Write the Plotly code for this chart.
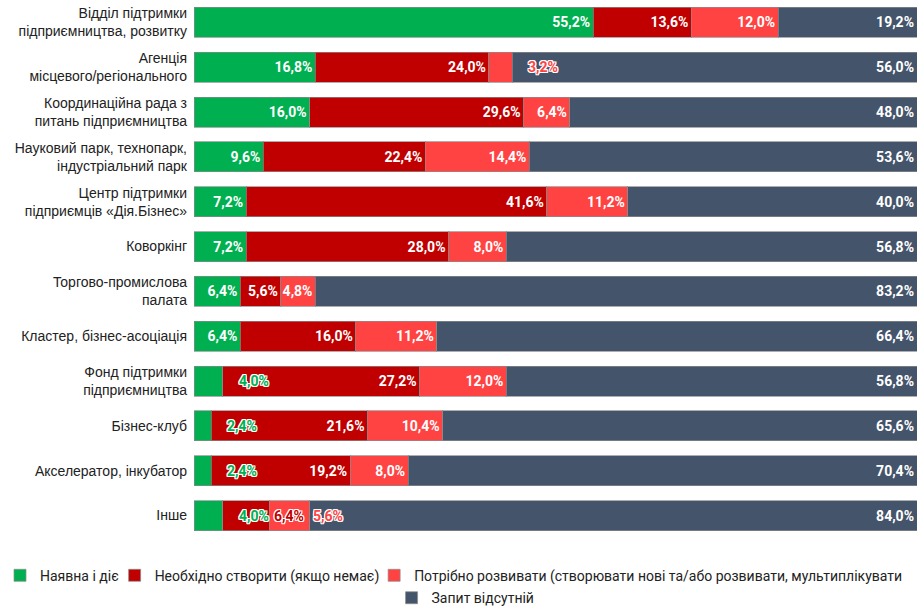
import plotly.graph_objects as go

categories = [
    "Відділ підтримки<br>підприємництва, розвитку",
    "Агенція<br>місцевого/регіонального",
    "Координаційна рада з<br>питань підприємництва",
    "Науковий парк, технопарк,<br>індустріальний парк",
    "Центр підтримки<br>підприємців «Дія.Бізнес»",
    "Коворкінг",
    "Торгово-промислова<br>палата",
    "Кластер, бізнес-асоціація",
    "Фонд підтримки<br>підприємництва",
    "Бізнес-клуб",
    "Акселератор, інкубатор",
    "Інше",
]

series_names = [
    "Наявна і діє",
    "Необхідно створити (якщо немає)",
    "Потрібно розвивати (створювати нові та/або розвивати, мультиплікувати",
    "Запит відсутній",
]

exists = [55.2, 16.8, 16.0, 9.6, 7.2, 7.2, 6.4, 6.4, 4.0, 2.4, 2.4, 4.0]
create = [13.6, 24.0, 29.6, 22.4, 41.6, 28.0, 5.6, 16.0, 27.2, 21.6, 19.2, 6.4]
develop = [12.0, 3.2, 6.4, 14.4, 11.2, 8.0, 4.8, 11.2, 12.0, 10.4, 8.0, 5.6]
no_request = [19.2, 56.0, 48.0, 53.6, 40.0, 56.8, 83.2, 66.4, 56.8, 65.6, 70.4, 84.0]

colors = ["#00B050", "#C00000", "#FF4343", "#44546A"]

# labels drawn outside their segment: (category index, series index, pixel shift)
outside_labels = [(1, 2, 14), (8, 0, 14), (9, 0, 14), (10, 0, 14),
                  (11, 0, 14), (11, 1, 3), (11, 2, 1)]

# legend entry placement (container fractions): x of entry start, y of row middle
legend_pos = [(-0.0136, 0.050), (0.125, 0.050), (0.408, 0.050), (0.427, 0.013)]

values = [exists, create, develop, no_request]
legend_ids = ["legend", "legend2", "legend3", "legend4"]


def fmt(v):
    return f"{v:.1f}".replace(".", ",") + "%"


fig = go.Figure()
for si, (name, vals, col) in enumerate(zip(series_names, values, colors)):
    texts = []
    for ci, v in enumerate(vals):
        if any(o[0] == ci and o[1] == si for o in outside_labels):
            texts.append("")
        else:
            texts.append(fmt(v))
    fig.add_trace(go.Bar(
        y=categories, x=vals, name=name, orientation="h",
        legend=legend_ids[si],
        marker=dict(color=col, line=dict(color="rgba(140,140,140,0.7)", width=1)),
        text=texts, textposition="inside", insidetextanchor="end",
        constraintext="none",
        textfont=dict(family="Roboto", size=14, color="white", weight="bold"),
        hoverinfo="skip", cliponaxis=False,
    ))

outline = ("white 1px 1px 0px, white -1px -1px 0px, white 1px -1px 0px, "
           "white -1px 1px 0px, white 0px 1px 0px, white 0px -1px 0px, "
           "white 1px 0px 0px, white -1px 0px 0px")
for ci, si, shift in outside_labels:
    end = sum(values[k][ci] for k in range(si + 1))
    fig.add_annotation(
        x=end, y=categories[ci], text=fmt(values[si][ci]),
        xanchor="left", yanchor="middle", xshift=shift, showarrow=False,
        font=dict(family="Roboto", size=14, color=colors[si], weight="bold",
                  shadow=outline),
    )

legend_common = dict(orientation="h", xref="container", yref="container",
                     xanchor="left", yanchor="middle", bgcolor="rgba(0,0,0,0)",
                     font=dict(family="Roboto", size=14, color="#222"),
                     itemclick=False, itemdoubleclick=False)
layout_legends = {}
for lid, (lx, ly) in zip(legend_ids, legend_pos):
    layout_legends[lid] = dict(legend_common, x=lx, y=ly)

fig.update_layout(
    barmode="stack",
    bargap=0.33,
    width=917, height=606,
    margin=dict(l=194, r=0, t=0, b=68),
    paper_bgcolor="white", plot_bgcolor="white",
    showlegend=True,
    font=dict(family="Liberation Sans, Arial", size=14, color="#222"),
    **layout_legends,
)
fig.update_xaxes(range=[0, 100], visible=False, fixedrange=True)
fig.update_yaxes(autorange="reversed", showgrid=False, showline=False,
                 ticks="", tickfont=dict(family="Liberation Sans, Arial", size=14, color="#222"),
                 ticklabelstandoff=6, fixedrange=True)

fig.write_html("out.html", config={"displayModeBar": False},
               post_script="document.body.style.margin='0';")
